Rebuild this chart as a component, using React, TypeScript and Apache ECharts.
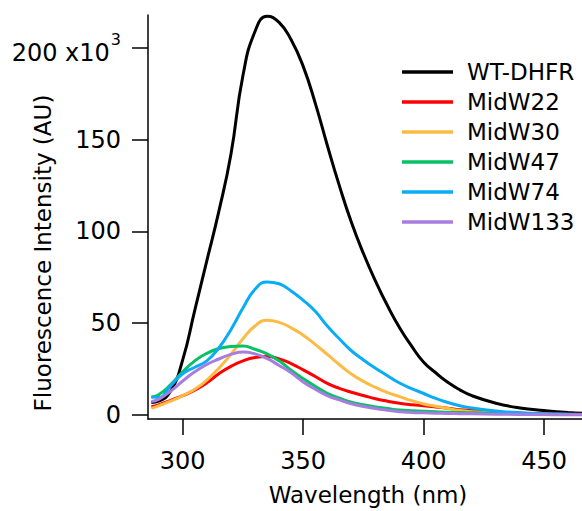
import React, { useEffect, useRef } from "react";
import * as echarts from "echarts";

// Wavelength grid (nm)
const wavelengths = [287, 290, 295, 300, 305, 310, 315, 320, 325, 330, 335, 340, 345, 350, 355, 360, 365, 370, 375, 380, 385, 390, 395, 400, 405, 410, 415, 420, 430, 440, 450, 460, 466];

// Fluorescence intensity (AU, x10^3)
const wtDhfr = [6.8, 7.5, 13, 30, 57, 84, 111, 142, 185, 209, 217.3, 214, 204.5, 190, 170, 147, 125, 105, 88, 73, 59.5, 47.5, 37.5, 28.7, 23, 17.8, 13.7, 10.5, 6.4, 3.8, 2.4, 1.3, 0.9];
const midW22 = [4.5, 5.5, 8, 10.5, 13.5, 17.5, 22.5, 26.5, 29.5, 31.3, 31.8, 30.6, 28, 24.6, 21, 17.2, 14.5, 12.4, 10.6, 8.8, 7.5, 6.4, 5.6, 5, 4.4, 3.7, 2.9, 2.4, 1.5, 0.9, 0.6, 0.4, 0.4];
const midW30 = [3.6, 5, 7.5, 10.5, 14, 19, 25.5, 33, 41.5, 48.5, 51.6, 50.5, 47.5, 43.5, 38.5, 33, 27.5, 22.3, 18.3, 15, 12.2, 10, 7.8, 6, 4.8, 3.5, 2.4, 1.8, 1, 0.6, 0.4, 0.2, 0.2];
const midW47 = [9.6, 11, 16.5, 23.5, 29.5, 33.6, 36.2, 37.3, 37.6, 35.8, 33.3, 29.5, 24.4, 19.8, 15.6, 11.8, 9.2, 7, 5.6, 4.4, 3.5, 2.7, 2.3, 2, 1.8, 1.5, 1.3, 1.2, 0.9, 0.6, 0.4, 0.3, 0.2];
const midW74 = [10, 9.5, 16, 22.5, 26, 29.5, 36.5, 46.5, 58.3, 68.5, 72.5, 71.5, 67.6, 62.5, 56.5, 48.5, 41.5, 35, 30, 25.5, 21.4, 17.4, 14.4, 11.7, 9, 6.8, 5, 3.8, 2.2, 1.2, 0.7, 0.4, 0.3];
const midW133 = [7.3, 8.5, 13, 18.5, 23.5, 27.5, 30.5, 33, 34.3, 33.3, 30.8, 27, 23, 18, 14, 10.6, 8.2, 6.1, 4.6, 3.5, 2.6, 1.8, 1.4, 1.2, 1, 0.8, 0.7, 0.6, 0.4, 0.3, 0.2, 0.1, 0.1];

const seriesNames = ["WT-DHFR", "MidW22", "MidW30", "MidW47", "MidW74", "MidW133"];
const seriesValues = [wtDhfr, midW22, midW30, midW47, midW74, midW133];
const seriesColors = ["#000000", "#ff0000", "#fdba45", "#06c165", "#0aacf5", "#a87de0"];

const xTicks = [300, 350, 400, 450];
const yTicks = [0, 50, 100, 150, 200];

const FONT = "DejaVu Sans";

export default function App() {
  const ref = useRef<HTMLDivElement>(null);

  useEffect(() => {
    document.body.style.margin = "0";
    if (!ref.current) return;
    const chart = echarts.init(ref.current, null, { renderer: "svg" });
    chart.setOption({
      animation: false,
      backgroundColor: "#ffffff",
      textStyle: { fontFamily: FONT },
      grid: { left: 148, right: 0, top: 15, bottom: 92, containLabel: false },
      xAxis: {
        type: "value",
        min: 285.6,
        max: 465.7,
        axisLine: { show: true, onZero: false, lineStyle: { color: "#000", width: 1.5 } },
        axisTick: { show: true, customValues: xTicks, length: 16, lineStyle: { color: "#000", width: 1.5 } },
        axisLabel: { customValues: xTicks, margin: 30, fontSize: 24, color: "#000", fontFamily: FONT },
        splitLine: { show: false },
      },
      yAxis: {
        type: "value",
        min: -2.2,
        max: 218,
        axisLine: { show: true, onZero: false, lineStyle: { color: "#000", width: 1.5 } },
        axisTick: { show: true, customValues: yTicks, length: 16, lineStyle: { color: "#000", width: 1.5 } },
        axisLabel: {
          customValues: yTicks,
          margin: 27,
          fontSize: 24,
          color: "#000",
          fontFamily: FONT,
          formatter: (v: number) => (v === 200 ? "{m|200 x10}{s|3}" : String(v)),
          rich: {
            m: { fontSize: 24, color: "#000", fontFamily: FONT, padding: [10, 0, 0, 0] },
            s: { fontSize: 16, color: "#000", fontFamily: FONT, padding: [0, 0, 18, 1] },
          },
        },
        splitLine: { show: false },
      },
      legend: {
        data: seriesNames.map((n) => ({ name: n, icon: "rect" })),
        orient: "vertical",
        left: 402,
        top: 57,
        padding: 0,
        itemWidth: 51,
        itemHeight: 3.5,
        itemGap: 0,
        textStyle: { fontSize: 23, lineHeight: 30, color: "#000", fontFamily: FONT, padding: [0, 0, 0, 9] },
      },
      graphic: [
        {
          type: "text",
          x: 42.5,
          y: 253,
          rotation: Math.PI / 2,
          style: {
            text: "Fluorescence Intensity (AU)",
            font: `23px "${FONT}"`,
            fill: "#000",
            textAlign: "center",
            textVerticalAlign: "middle",
          },
        },
        {
          type: "text",
          x: 368,
          y: 495,
          style: {
            text: "Wavelength (nm)",
            font: `23px "${FONT}"`,
            fill: "#000",
            textAlign: "center",
            textVerticalAlign: "middle",
          },
        },
      ],
      series: seriesNames.map((name, i) => ({
        name,
        type: "line",
        data: wavelengths.map((w, j) => [w, seriesValues[i][j]]),
        smooth: 0.5,
        showSymbol: false,
        symbol: "none",
        clip: false,
        color: seriesColors[i],
        itemStyle: { color: seriesColors[i] },
        lineStyle: { width: 3, color: seriesColors[i] },
      })),
    });
    return () => chart.dispose();
  }, []);

  return <div ref={ref} style={{ width: 582, height: 511 }} />;
}
